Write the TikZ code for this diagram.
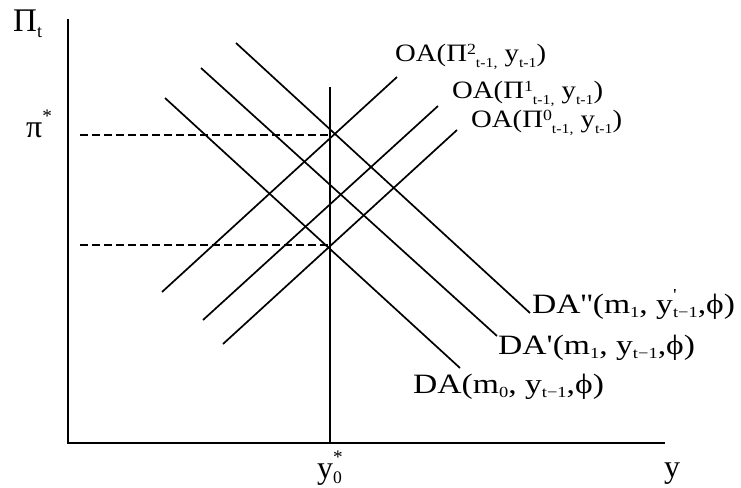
\documentclass[tikz,border=0pt]{standalone}
\usepackage{fontspec}
\setmainfont{Liberation Serif}
\usepackage{graphicx}
\newcommand\lo[1]{\raisebox{-0.35ex}{\scalebox{0.55}{#1}}}
\newcommand\hi[1]{\raisebox{1.0ex}{\scalebox{0.6}{#1}}}
\newcommand\up[1]{\raisebox{0.6ex}{\scalebox{0.62}{#1}}}
\newcommand\dn[1]{\raisebox{-0.55ex}{\scalebox{0.55}{#1}}}
\newcommand\wider[2]{\scalebox{#1}[1]{#2}}
\newcommand\q{\textquotesingle}
\begin{document}
\begin{tikzpicture}[x=1pt, y=-1pt,
    curve/.style={line width=1.7pt},
    guide/.style={line width=1.6pt, dash pattern=on 8pt off 4pt},
    big/.style={anchor=base west, inner sep=0pt, font=\fontsize{28}{30}\selectfont},
    small/.style={anchor=base west, inner sep=0pt, font=\fontsize{25}{28}\selectfont}]
  \useasboundingbox (0,0) rectangle (741,487);
  % axes
  \draw[line width=2pt] (68,19) -- (68,443) -- (665,443);
  \draw[curve] (330,87) -- (330,443);
  \draw[guide] (80,135) -- (330,135);
  \draw[guide] (80,245) -- (330,245);
  % demand lines
  \draw[curve] (165,98) -- (460,368);
  \draw[curve] (201,68) -- (497,336);
  \draw[curve] (236,43) -- (530,313);
  % supply lines
  \draw[curve] (162,292) -- (397,77);
  \draw[curve] (203,320) -- (438,106);
  \draw[curve] (223,344) -- (457,130);
  % labels
  \node[big] (da2) at (532,313) {\wider{1.2}{DA\q\q(m\lo{1}, y\rlap{\hi{\q}}\lo{t−1},ϕ)}};
  \node[big] (da1) at (498,354) {\wider{1.2}{DA\q(m\lo{1}, y\lo{t−1},ϕ)}};
  \node[big] (da0) at (413,393) {\wider{1.2}{DA(m\lo{0}, y\lo{t−1},ϕ)}};
  \node[small] (oa2) at (395,61) {\wider{1.15}{OA(Π\up{2}\dn{t-1,} y\dn{t-1})}};
  \node[small] (oa1) at (452,98) {\wider{1.15}{OA(Π\up{1}\dn{t-1,} y\dn{t-1})}};
  \node[small] (oa0) at (471,127) {\wider{1.15}{OA(Π\up{0}\dn{t-1,} y\dn{t-1})}};
  \node[anchor=base west, inner sep=0pt, font=\fontsize{33}{36}\selectfont] (pit) at (13,32) {Π\lo{t}};
  \node[anchor=base west, inner sep=0pt, font=\fontsize{32}{34}\selectfont] (pistar) at (26,137) {π\hi{*}};
  \node[anchor=base west, inner sep=0pt, font=\fontsize{32}{34}\selectfont] (ystar) at (317,478) {y\rlap{\hi{*}}\lo{0}};
  \node[anchor=base west, inner sep=0pt, font=\fontsize{32}{34}\selectfont] (yax) at (664,477) {y};
\end{tikzpicture}
\end{document}
